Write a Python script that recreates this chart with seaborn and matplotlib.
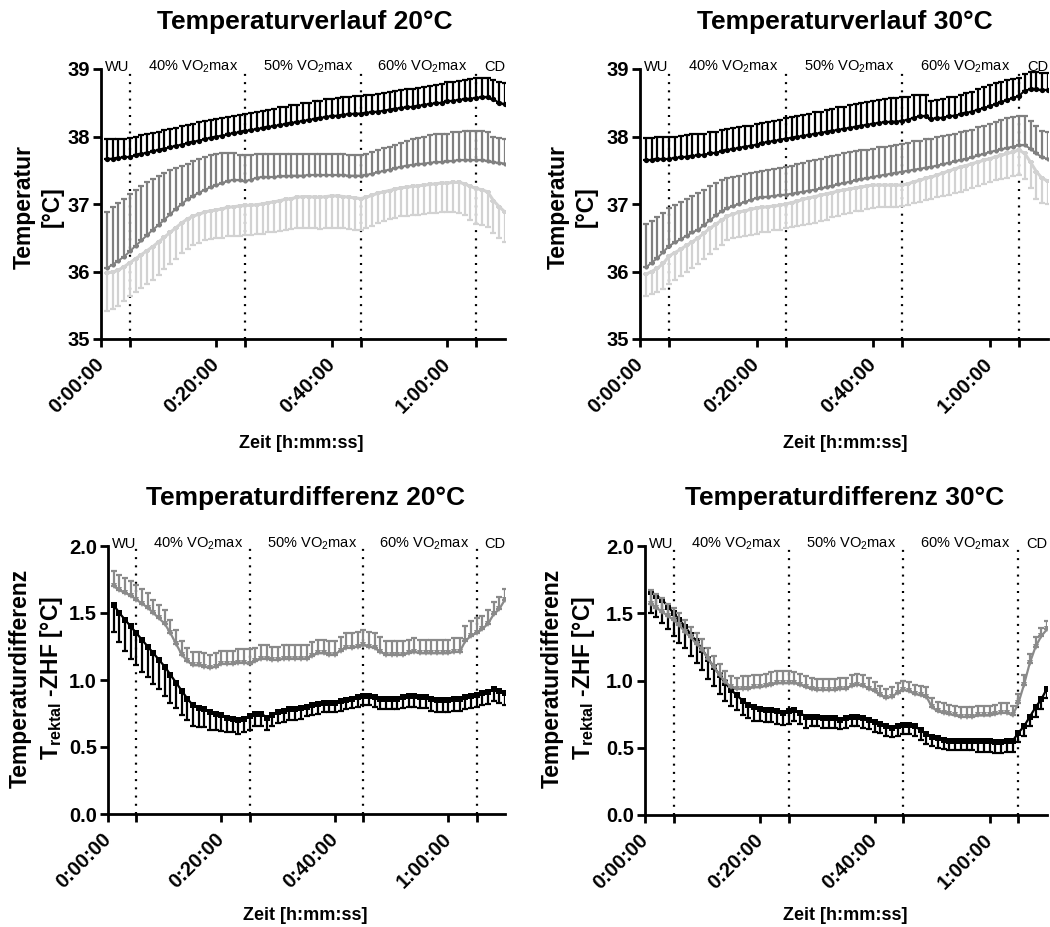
import matplotlib
matplotlib.use("Agg")
import matplotlib.pyplot as plt
import matplotlib.transforms as mtransforms
import seaborn as sns

# ---------------------------------------------------------------- data
minutes = list(range(1, 71))

phase_bounds = [5, 25, 45, 65]
phase_labels = ["WU", "40% VO$_2$max", "50% VO$_2$max", "60% VO$_2$max", "CD"]
phase_label_pos = [2.8, 15.9, 35.9, 55.7, 68.2]

time_ticks = [0, 20, 40, 60]
time_tick_labels = ["0:00:00", "0:20:00", "0:40:00", "1:00:00"]

# 20 °C: temperatures (mean, SD)
rektal_20 = [37.67, 37.67, 37.68, 37.69, 37.70, 37.72, 37.74, 37.76, 37.78, 37.80,
             37.82, 37.84, 37.86, 37.88, 37.90, 37.92, 37.94, 37.96, 37.98, 38.00,
             38.01, 38.03, 38.05, 38.06, 38.08, 38.09, 38.11, 38.12, 38.14, 38.15,
             38.17, 38.18, 38.20, 38.21, 38.23, 38.24, 38.26, 38.27, 38.29, 38.30,
             38.31, 38.32, 38.33, 38.34, 38.34, 38.35, 38.36, 38.37, 38.38, 38.40,
             38.41, 38.42, 38.43, 38.44, 38.45, 38.47, 38.48, 38.49, 38.50, 38.52,
             38.53, 38.54, 38.55, 38.56, 38.57, 38.58, 38.58, 38.55, 38.50, 38.48]
rektal_20_sd = [0.29, 0.29, 0.28, 0.28, 0.28, 0.28, 0.28, 0.28, 0.27, 0.27,
                0.27, 0.27, 0.27, 0.27, 0.27, 0.27, 0.27, 0.27, 0.26, 0.26,
                0.26, 0.26, 0.26, 0.26, 0.26, 0.26, 0.26, 0.26, 0.26, 0.26,
                0.26, 0.26, 0.26, 0.26, 0.26, 0.26, 0.26, 0.26, 0.26, 0.26,
                0.26, 0.26, 0.26, 0.26, 0.26, 0.26, 0.26, 0.26, 0.26, 0.26,
                0.27, 0.27, 0.27, 0.27, 0.27, 0.27, 0.27, 0.28, 0.28, 0.28,
                0.28, 0.28, 0.29, 0.29, 0.30, 0.29, 0.28, 0.28, 0.31, 0.32]
zhf1_20 = [36.05, 36.10, 36.16, 36.22, 36.30, 36.38, 36.46, 36.54, 36.62, 36.69,
           36.77, 36.85, 36.93, 37.00, 37.07, 37.12, 37.17, 37.21, 37.25, 37.28,
           37.31, 37.34, 37.36, 37.35, 37.34, 37.36, 37.39, 37.40, 37.40, 37.40,
           37.41, 37.41, 37.42, 37.42, 37.42, 37.43, 37.43, 37.43, 37.43, 37.43,
           37.43, 37.43, 37.42, 37.42, 37.42, 37.43, 37.45, 37.47, 37.49, 37.51,
           37.53, 37.55, 37.57, 37.58, 37.59, 37.60, 37.61, 37.62, 37.62, 37.63,
           37.64, 37.65, 37.65, 37.65, 37.65, 37.65, 37.64, 37.62, 37.61, 37.60]
zhf1_20_sd = [0.83, 0.85, 0.86, 0.86, 0.85, 0.83, 0.81, 0.78, 0.75, 0.73,
              0.69, 0.65, 0.61, 0.57, 0.53, 0.51, 0.49, 0.48, 0.47, 0.46,
              0.44, 0.42, 0.39, 0.38, 0.38, 0.37, 0.35, 0.34, 0.34, 0.34,
              0.33, 0.33, 0.32, 0.32, 0.32, 0.31, 0.31, 0.31, 0.31, 0.31,
              0.31, 0.31, 0.31, 0.31, 0.30, 0.31, 0.32, 0.33, 0.34, 0.34,
              0.35, 0.36, 0.37, 0.38, 0.39, 0.40, 0.41, 0.41, 0.41, 0.41,
              0.42, 0.42, 0.43, 0.43, 0.43, 0.43, 0.42, 0.37, 0.37, 0.37]
zhf2_20 = [35.98, 35.99, 36.02, 36.07, 36.13, 36.19, 36.25, 36.31, 36.37, 36.44,
           36.51, 36.58, 36.65, 36.72, 36.78, 36.82, 36.85, 36.88, 36.90, 36.91,
           36.93, 36.95, 36.96, 36.97, 36.98, 36.98, 36.99, 37.00, 37.02, 37.03,
           37.05, 37.07, 37.08, 37.10, 37.11, 37.11, 37.10, 37.10, 37.11, 37.12,
           37.12, 37.11, 37.10, 37.09, 37.08, 37.10, 37.13, 37.16, 37.18, 37.20,
           37.22, 37.24, 37.25, 37.26, 37.27, 37.28, 37.29, 37.30, 37.31, 37.31,
           37.32, 37.32, 37.30, 37.26, 37.23, 37.21, 37.18, 37.05, 36.96, 36.88]
zhf2_20_sd = [0.57, 0.55, 0.53, 0.51, 0.49, 0.49, 0.49, 0.49, 0.49, 0.49,
              0.48, 0.47, 0.46, 0.45, 0.44, 0.43, 0.43, 0.42, 0.42, 0.42,
              0.43, 0.43, 0.43, 0.44, 0.44, 0.44, 0.44, 0.44, 0.44, 0.44,
              0.45, 0.45, 0.45, 0.46, 0.46, 0.46, 0.46, 0.47, 0.47, 0.47,
              0.47, 0.47, 0.47, 0.47, 0.47, 0.46, 0.45, 0.44, 0.43, 0.42,
              0.42, 0.42, 0.43, 0.43, 0.43, 0.43, 0.43, 0.43, 0.43, 0.43,
              0.44, 0.45, 0.47, 0.50, 0.52, 0.52, 0.52, 0.48, 0.46, 0.44]

# 30 °C: temperatures (mean, SD)
rektal_30 = [37.65, 37.65, 37.66, 37.66, 37.67, 37.68, 37.69, 37.70, 37.71, 37.72,
             37.73, 37.75, 37.76, 37.78, 37.80, 37.81, 37.83, 37.85, 37.86, 37.88,
             37.90, 37.92, 37.93, 37.95, 37.97, 37.98, 37.99, 38.01, 38.02, 38.04,
             38.05, 38.07, 38.08, 38.10, 38.11, 38.13, 38.14, 38.16, 38.17, 38.19,
             38.20, 38.21, 38.22, 38.22, 38.23, 38.25, 38.28, 38.30, 38.30, 38.26,
             38.27, 38.28, 38.30, 38.31, 38.33, 38.35, 38.37, 38.40, 38.42, 38.45,
             38.48, 38.51, 38.54, 38.57, 38.60, 38.68, 38.70, 38.70, 38.69, 38.69]
rektal_30_sd = [0.33, 0.33, 0.33, 0.33, 0.32, 0.32, 0.32, 0.32, 0.32, 0.31,
                0.31, 0.31, 0.31, 0.31, 0.31, 0.31, 0.31, 0.30, 0.30, 0.30,
                0.30, 0.30, 0.30, 0.30, 0.30, 0.31, 0.31, 0.31, 0.32, 0.32,
                0.32, 0.32, 0.33, 0.33, 0.33, 0.33, 0.34, 0.34, 0.34, 0.34,
                0.34, 0.35, 0.35, 0.35, 0.35, 0.34, 0.33, 0.32, 0.32, 0.27,
                0.27, 0.27, 0.28, 0.28, 0.28, 0.29, 0.29, 0.30, 0.31, 0.32,
                0.31, 0.30, 0.29, 0.28, 0.27, 0.25, 0.25, 0.25, 0.25, 0.25]
zhf1_30 = [36.06, 36.13, 36.20, 36.29, 36.38, 36.43, 36.48, 36.53, 36.58, 36.62,
           36.69, 36.76, 36.83, 36.89, 36.94, 36.97, 37.00, 37.03, 37.06, 37.09,
           37.10, 37.11, 37.12, 37.13, 37.14, 37.15, 37.17, 37.18, 37.20, 37.21,
           37.23, 37.25, 37.27, 37.29, 37.31, 37.33, 37.35, 37.37, 37.38, 37.40,
           37.42, 37.43, 37.45, 37.46, 37.48, 37.49, 37.51, 37.52, 37.54, 37.55,
           37.57, 37.59, 37.61, 37.63, 37.65, 37.67, 37.69, 37.72, 37.74, 37.77,
           37.79, 37.81, 37.83, 37.85, 37.87, 37.87, 37.82, 37.75, 37.69, 37.67]
zhf1_30_sd = [0.64, 0.62, 0.60, 0.58, 0.56, 0.56, 0.55, 0.55, 0.54, 0.54,
              0.52, 0.50, 0.48, 0.46, 0.44, 0.43, 0.42, 0.41, 0.40, 0.39,
              0.39, 0.40, 0.40, 0.41, 0.41, 0.42, 0.42, 0.43, 0.43, 0.44,
              0.44, 0.44, 0.44, 0.44, 0.44, 0.44, 0.43, 0.43, 0.42, 0.42,
              0.42, 0.42, 0.41, 0.41, 0.41, 0.41, 0.42, 0.42, 0.42, 0.42,
              0.42, 0.42, 0.41, 0.41, 0.41, 0.41, 0.41, 0.42, 0.42, 0.42,
              0.43, 0.43, 0.44, 0.44, 0.44, 0.43, 0.41, 0.40, 0.39, 0.39]
zhf2_30 = [35.96, 36.00, 36.05, 36.12, 36.23, 36.28, 36.33, 36.39, 36.44, 36.50,
           36.57, 36.64, 36.70, 36.76, 36.82, 36.85, 36.88, 36.90, 36.92, 36.94,
           36.95, 36.96, 36.97, 36.98, 37.00, 37.02, 37.04, 37.07, 37.09, 37.11,
           37.13, 37.15, 37.17, 37.19, 37.21, 37.22, 37.24, 37.25, 37.27, 37.28,
           37.28, 37.28, 37.28, 37.28, 37.28, 37.30, 37.33, 37.35, 37.38, 37.40,
           37.43, 37.46, 37.49, 37.52, 37.55, 37.57, 37.60, 37.62, 37.65, 37.67,
           37.70, 37.72, 37.75, 37.77, 37.80, 37.75, 37.62, 37.48, 37.38, 37.34]
zhf2_30_sd = [0.32, 0.34, 0.36, 0.38, 0.41, 0.41, 0.40, 0.40, 0.39, 0.39,
              0.38, 0.38, 0.37, 0.37, 0.36, 0.36, 0.37, 0.37, 0.38, 0.38,
              0.37, 0.37, 0.36, 0.36, 0.35, 0.36, 0.37, 0.38, 0.38, 0.39,
              0.38, 0.38, 0.37, 0.37, 0.36, 0.36, 0.35, 0.35, 0.34, 0.34,
              0.33, 0.33, 0.32, 0.32, 0.31, 0.31, 0.31, 0.32, 0.32, 0.32,
              0.33, 0.34, 0.35, 0.36, 0.37, 0.36, 0.36, 0.35, 0.35, 0.34,
              0.35, 0.35, 0.36, 0.36, 0.37, 0.38, 0.39, 0.40, 0.37, 0.34]

# 20 °C: rectal minus ZHF differences (mean, SD)
diff1_20 = [1.56, 1.50, 1.45, 1.40, 1.35, 1.30, 1.25, 1.20, 1.15, 1.10,
            1.04, 0.98, 0.92, 0.86, 0.81, 0.79, 0.78, 0.76, 0.75, 0.74,
            0.72, 0.71, 0.70, 0.71, 0.73, 0.75, 0.75, 0.72, 0.74, 0.76,
            0.77, 0.78, 0.78, 0.79, 0.80, 0.81, 0.82, 0.83, 0.83, 0.83,
            0.84, 0.85, 0.86, 0.87, 0.88, 0.88, 0.87, 0.86, 0.86, 0.86,
            0.86, 0.87, 0.88, 0.88, 0.87, 0.87, 0.86, 0.85, 0.85, 0.85,
            0.86, 0.86, 0.87, 0.88, 0.89, 0.90, 0.91, 0.93, 0.92, 0.90]
diff1_20_sd = [0.20, 0.22, 0.23, 0.24, 0.24, 0.24, 0.23, 0.23, 0.22, 0.22,
               0.21, 0.19, 0.18, 0.16, 0.15, 0.14, 0.13, 0.13, 0.12, 0.12,
               0.11, 0.10, 0.10, 0.10, 0.10, 0.09, 0.09, 0.09, 0.08, 0.08,
               0.08, 0.08, 0.08, 0.08, 0.07, 0.07, 0.07, 0.07, 0.07, 0.07,
               0.07, 0.07, 0.07, 0.07, 0.07, 0.07, 0.07, 0.08, 0.08, 0.08,
               0.08, 0.08, 0.08, 0.08, 0.08, 0.08, 0.09, 0.09, 0.09, 0.09,
               0.09, 0.09, 0.09, 0.09, 0.09, 0.09, 0.09, 0.09, 0.09, 0.09]
diff2_20 = [1.70, 1.67, 1.65, 1.63, 1.60, 1.57, 1.54, 1.50, 1.46, 1.42,
            1.35, 1.27, 1.19, 1.14, 1.11, 1.11, 1.10, 1.09, 1.10, 1.12,
            1.12, 1.12, 1.13, 1.13, 1.12, 1.14, 1.16, 1.16, 1.15, 1.15,
            1.16, 1.16, 1.16, 1.16, 1.16, 1.18, 1.20, 1.20, 1.19, 1.19,
            1.22, 1.24, 1.24, 1.25, 1.26, 1.25, 1.24, 1.21, 1.19, 1.19,
            1.19, 1.19, 1.20, 1.21, 1.20, 1.20, 1.20, 1.20, 1.20, 1.20,
            1.21, 1.21, 1.29, 1.33, 1.35, 1.38, 1.42, 1.49, 1.53, 1.60]
diff2_20_sd = [0.11, 0.11, 0.11, 0.11, 0.11, 0.11, 0.11, 0.10, 0.10, 0.10,
               0.10, 0.10, 0.10, 0.10, 0.10, 0.10, 0.10, 0.10, 0.10, 0.10,
               0.10, 0.10, 0.10, 0.10, 0.11, 0.10, 0.10, 0.10, 0.10, 0.10,
               0.10, 0.10, 0.10, 0.10, 0.10, 0.10, 0.10, 0.10, 0.10, 0.10,
               0.10, 0.11, 0.11, 0.11, 0.11, 0.11, 0.11, 0.11, 0.10, 0.10,
               0.10, 0.10, 0.10, 0.10, 0.10, 0.10, 0.10, 0.10, 0.10, 0.10,
               0.10, 0.10, 0.11, 0.11, 0.11, 0.10, 0.10, 0.09, 0.09, 0.08]

# 30 °C: rectal minus ZHF differences (mean, SD)
diff1_30 = [1.66, 1.63, 1.60, 1.55, 1.50, 1.45, 1.40, 1.34, 1.29, 1.23,
            1.16, 1.10, 1.04, 0.98, 0.93, 0.89, 0.85, 0.82, 0.80, 0.79,
            0.78, 0.78, 0.77, 0.76, 0.77, 0.78, 0.76, 0.73, 0.73, 0.73,
            0.72, 0.72, 0.72, 0.71, 0.72, 0.73, 0.73, 0.72, 0.71, 0.69,
            0.68, 0.66, 0.65, 0.66, 0.67, 0.67, 0.66, 0.63, 0.60, 0.58,
            0.57, 0.56, 0.55, 0.55, 0.55, 0.55, 0.55, 0.55, 0.55, 0.55,
            0.54, 0.54, 0.55, 0.55, 0.61, 0.66, 0.73, 0.80, 0.86, 0.94]
diff1_30_sd = [0.16, 0.16, 0.17, 0.17, 0.17, 0.17, 0.16, 0.16, 0.16, 0.15,
               0.15, 0.14, 0.14, 0.13, 0.12, 0.11, 0.11, 0.10, 0.10, 0.09,
               0.09, 0.09, 0.09, 0.09, 0.09, 0.08, 0.08, 0.08, 0.07, 0.07,
               0.07, 0.07, 0.07, 0.07, 0.07, 0.07, 0.07, 0.07, 0.07, 0.07,
               0.07, 0.07, 0.07, 0.07, 0.07, 0.07, 0.07, 0.07, 0.07, 0.07,
               0.07, 0.07, 0.07, 0.07, 0.07, 0.07, 0.07, 0.08, 0.08, 0.08,
               0.08, 0.08, 0.08, 0.08, 0.07, 0.07, 0.07, 0.07, 0.07, 0.07]
diff2_30 = [1.57, 1.54, 1.51, 1.48, 1.45, 1.41, 1.36, 1.32, 1.27, 1.23,
            1.16, 1.10, 1.04, 0.99, 0.95, 0.94, 0.94, 0.94, 0.95, 0.95,
            0.96, 0.97, 0.98, 0.98, 0.98, 0.98, 0.97, 0.95, 0.94, 0.93,
            0.93, 0.93, 0.93, 0.94, 0.94, 0.96, 0.97, 0.96, 0.94, 0.92,
            0.89, 0.87, 0.88, 0.91, 0.93, 0.92, 0.90, 0.89, 0.88, 0.80,
            0.77, 0.76, 0.75, 0.74, 0.73, 0.73, 0.73, 0.74, 0.74, 0.74,
            0.75, 0.76, 0.76, 0.74, 0.83, 0.97, 1.13, 1.25, 1.33, 1.38]
diff2_30_sd = [0.10, 0.10, 0.10, 0.09, 0.09, 0.09, 0.09, 0.08, 0.08, 0.08,
               0.08, 0.08, 0.08, 0.08, 0.08, 0.08, 0.09, 0.09, 0.09, 0.09,
               0.09, 0.09, 0.09, 0.09, 0.09, 0.08, 0.08, 0.08, 0.08, 0.08,
               0.08, 0.08, 0.08, 0.08, 0.08, 0.08, 0.08, 0.08, 0.08, 0.07,
               0.07, 0.07, 0.07, 0.07, 0.07, 0.07, 0.07, 0.07, 0.07, 0.07,
               0.07, 0.07, 0.07, 0.07, 0.07, 0.07, 0.07, 0.07, 0.07, 0.07,
               0.07, 0.07, 0.07, 0.07, 0.07, 0.07, 0.07, 0.07, 0.06, 0.06]

# ---------------------------------------------------------------- style
sns.set_theme(style="ticks")
plt.rcParams["font.family"] = ["Liberation Sans", "DejaVu Sans"]
plt.rcParams["mathtext.fontset"] = "custom"
plt.rcParams["mathtext.rm"] = "Liberation Sans"
plt.rcParams["mathtext.it"] = "Liberation Sans:italic"
plt.rcParams["mathtext.bf"] = "Liberation Sans:bold"
plt.rcParams["mathtext.default"] = "rm"
for key in ("text.color", "axes.labelcolor", "xtick.color", "ytick.color",
            "xtick.labelcolor", "ytick.labelcolor"):
    plt.rcParams[key] = "black"

BLACK = "#000000"
MID = "#808080"
LIGHT = "#d2d2d2"
DIFF_GREY = "#8a8a8a"

W, H = 1050, 927
fig = plt.figure(figsize=(W / 100, H / 100), dpi=100)


def axes_px(left, top, right, bottom):
    return fig.add_axes([left / W, 1 - bottom / H, (right - left) / W, (bottom - top) / H])


def fig_text(x, y, s, **kw):
    fig.text(x / W, 1 - y / H, s, **kw)


def series(ax, y, sd, color, marker, msize, lw, upward, zorder):
    zeros = [0.0] * len(sd)
    yerr = [zeros, sd] if upward else [sd, zeros]
    ax.errorbar(minutes, y, yerr=yerr, fmt="none", ecolor=color,
                elinewidth=1.6, capsize=2.4, capthick=1.6, zorder=zorder)
    sns.lineplot(x=minutes, y=y, ax=ax, color=color, marker=marker,
                 markersize=msize, markeredgewidth=0, linewidth=lw,
                 zorder=zorder + 0.5)


def style_axes(ax, ylim, yticks, yfmt):
    ax.set_xlim(0, 70)
    ax.set_ylim(*ylim)
    for s in ("top", "right"):
        ax.spines[s].set_visible(False)
    for s in ("left", "bottom"):
        ax.spines[s].set_linewidth(2.0)
        ax.spines[s].set_color("black")
    ax.set_xticks(time_ticks + phase_bounds)
    ax.set_xticklabels(time_tick_labels + [""] * len(phase_bounds))
    ax.set_yticks(yticks)
    ax.set_yticklabels([yfmt.format(v) for v in yticks])
    ax.tick_params(axis="both", direction="out", length=6, width=2.0,
                   color="black", labelcolor="black", labelsize=14.5)
    ax.tick_params(axis="y", pad=2)
    ax.tick_params(axis="x", pad=10)
    for lab in ax.get_yticklabels() + ax.get_xticklabels():
        lab.set_fontweight("bold")
    for lab in ax.get_xticklabels():
        lab.set_rotation(45)
        lab.set_ha("right")
        lab.set_va("center")
        lab.set_rotation_mode("anchor")
    ax.set_xlabel("")
    ax.set_ylabel("")
    ax.grid(False)
    # phase boundaries and labels
    for b in phase_bounds:
        ax.axvline(b, color="black", linewidth=1.6, linestyle=(0, (0.9, 2.8)),
                   zorder=1)
    trans = mtransforms.blended_transform_factory(ax.transData, ax.transAxes)
    for xpos, lab in zip(phase_label_pos, phase_labels):
        ax.text(xpos, 0.993, lab, transform=trans, ha="center", va="baseline",
                fontsize=10.5, color="black", zorder=6)


panels = [
    # (box, title, title centre, y-label, y-label centre, x-label centre)
    dict(box=(101, 69, 505, 339), title="Temperaturverlauf 20°C", tc=(305, 22),
         yl="Temperatur\n[°C]", ylc=(38, 207), xlc=(301, 444)),
    dict(box=(640, 69, 1048, 339), title="Temperaturverlauf 30°C", tc=(845, 22),
         yl="Temperatur\n[°C]", ylc=(572, 207), xlc=(845, 444)),
    dict(box=(108, 546, 505, 814), title="Temperaturdifferenz 20°C", tc=(306, 498),
         yl="Temperaturdifferenz\nT$_\\mathbf{rektal}$ -ZHF [°C]", ylc=(37, 678),
         xlc=(305, 915)),
    dict(box=(645, 546, 1047, 815), title="Temperaturdifferenz 30°C", tc=(845, 498),
         yl="Temperaturdifferenz\nT$_\\mathbf{rektal}$ -ZHF [°C]", ylc=(569, 678),
         xlc=(845, 915)),
]

axes = [axes_px(*p["box"]) for p in panels]

# temperature courses
for ax, (rek, rek_sd, z1, z1_sd, z2, z2_sd) in zip(
        axes[:2],
        [(rektal_20, rektal_20_sd, zhf1_20, zhf1_20_sd, zhf2_20, zhf2_20_sd),
         (rektal_30, rektal_30_sd, zhf1_30, zhf1_30_sd, zhf2_30, zhf2_30_sd)]):
    series(ax, z2, z2_sd, LIGHT, "s", 3.2, 2.2, upward=False, zorder=2)
    series(ax, z1, z1_sd, MID, "o", 3.0, 1.4, upward=True, zorder=3)
    series(ax, rek, rek_sd, BLACK, "o", 3.8, 1.4, upward=True, zorder=4)
    style_axes(ax, (35, 39), [35, 36, 37, 38, 39], "{:.0f}")

# rectal minus ZHF differences
for ax, (d1, d1_sd, d2, d2_sd) in zip(
        axes[2:],
        [(diff1_20, diff1_20_sd, diff2_20, diff2_20_sd),
         (diff1_30, diff1_30_sd, diff2_30, diff2_30_sd)]):
    series(ax, d1, d1_sd, BLACK, "s", 3.8, 1.6, upward=False, zorder=3)
    series(ax, d2, d2_sd, DIFF_GREY, "v", 4.2, 1.6, upward=True, zorder=4)
    style_axes(ax, (0, 2.0), [0.0, 0.5, 1.0, 1.5, 2.0], "{:.1f}")

for p in panels:
    fig_text(*p["tc"], p["title"], ha="center", va="center", fontsize=19,
             fontweight="bold", color="black")
    fig_text(*p["ylc"], p["yl"], ha="center", va="center", rotation=90,
             fontsize=16.5, fontweight="bold", linespacing=1.3, color="black")
    fig_text(*p["xlc"], "Zeit [h:mm:ss]", ha="center", va="center",
             fontsize=13, fontweight="bold", color="black")

fig.savefig("out.png", dpi=100, facecolor="white")
